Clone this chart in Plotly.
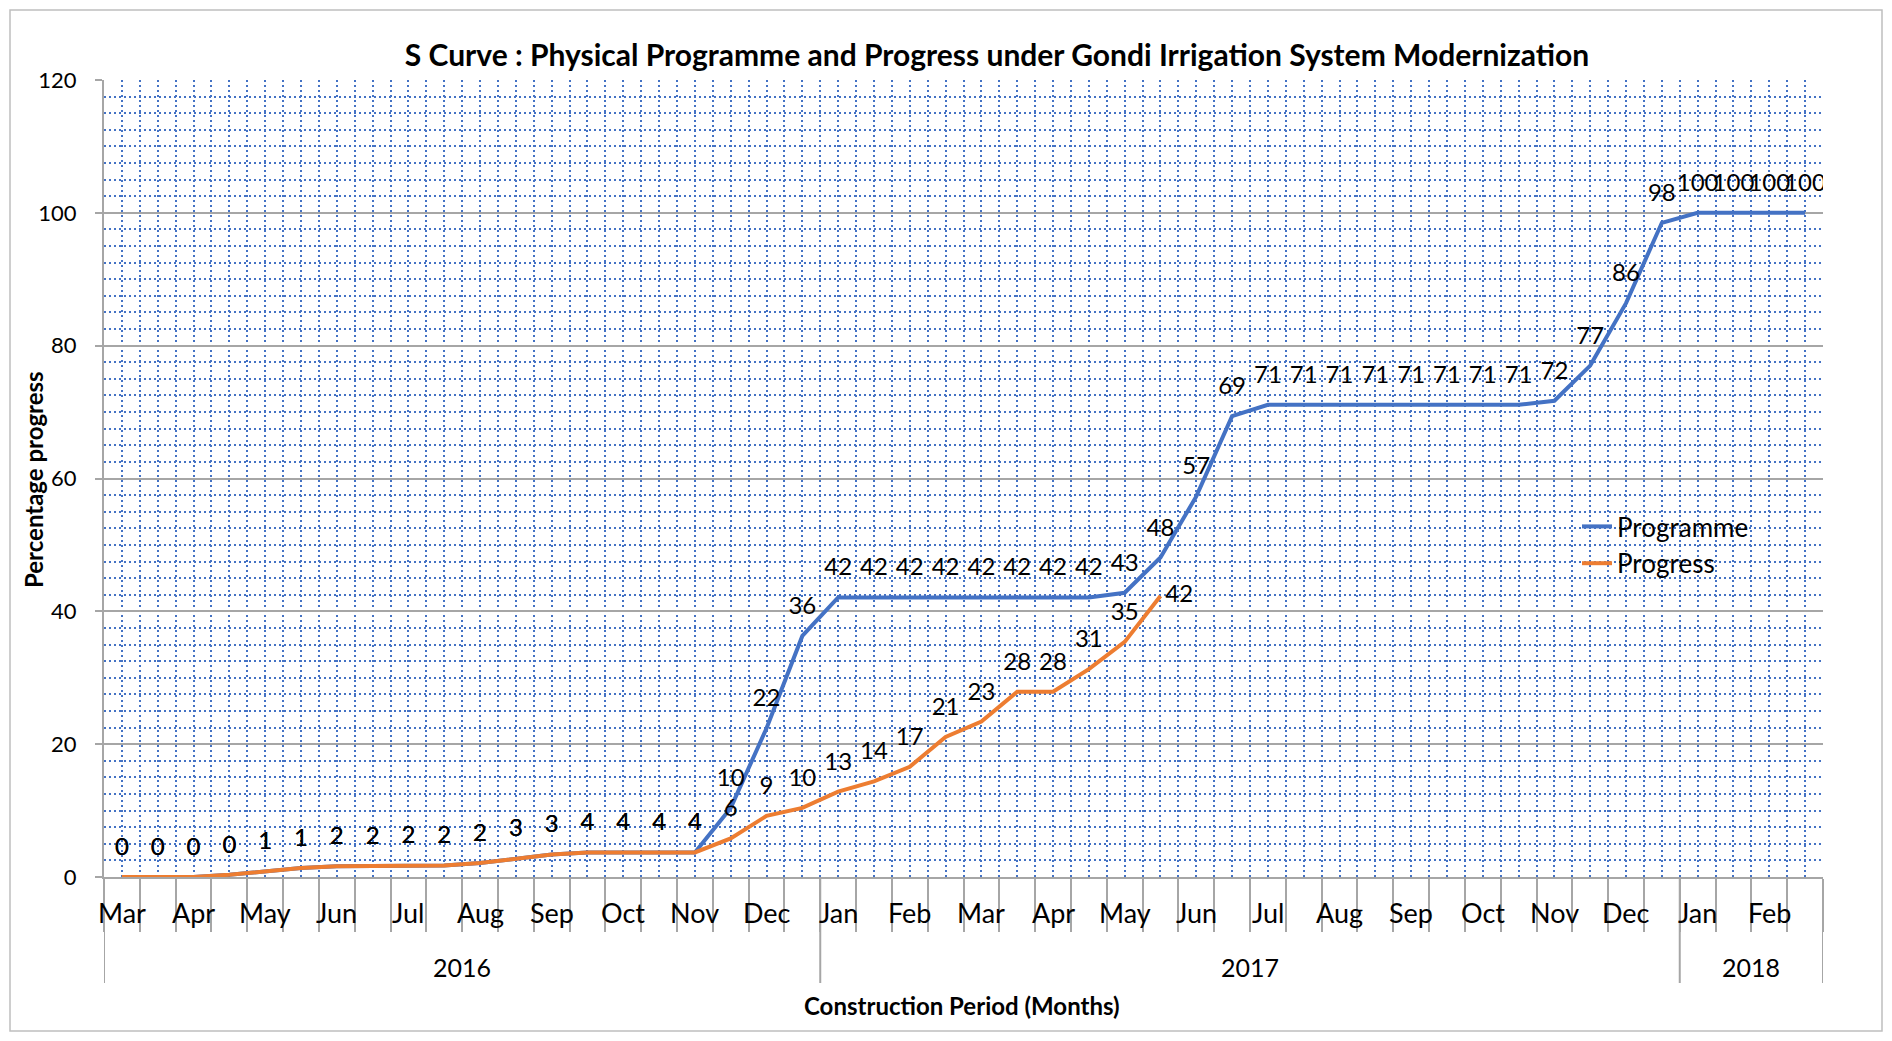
import plotly.graph_objects as go

# ---- data ----
months = ["Mar", "Apr", "May", "Jun", "Jul", "Aug", "Sep", "Oct", "Nov", "Dec",
          "Jan", "Feb", "Mar", "Apr", "May", "Jun", "Jul", "Aug", "Sep", "Oct", "Nov", "Dec",
          "Jan", "Feb"]
years = ["2016", "2017", "2018"]
months_per_year = [10, 12, 2]
points_per_month = 2

programme = [0, 0, 0, 0.35, 0.85, 1.35, 1.6, 1.7, 1.75, 1.75, 2.1, 2.8, 3.4, 3.7, 3.7, 3.7, 3.7,
             10.4, 22.4, 36.3, 42.1, 42.1, 42.1, 42.1, 42.1, 42.1, 42.1, 42.1, 42.8, 48.1,
             57.3, 69.4, 71.1, 71.1, 71.1, 71.1, 71.1, 71.1, 71.1, 71.1, 71.7, 77.0, 86.4,
             98.5, 100, 100, 100, 100]
progress = [0, 0, 0, 0.35, 0.85, 1.35, 1.6, 1.7, 1.75, 1.75, 2.1, 2.8, 3.4, 3.7, 3.7, 3.7, 3.7,
            5.8, 9.2, 10.4, 12.85, 14.4, 16.6, 21.1, 23.4, 27.9, 27.9, 31.3, 35.4, 42.3]

# ---- layout helpers (screen pixel coordinates; page body has an 8px margin) ----
OFF = 8
W, H = 1892 - 2 * OFF, 1041 - 2 * OFF
L, R, T, B = 104, 1823, 80, 877
pw, ph = R - L, B - T
def py(pix):  # screen pixel y -> paper y
    return (B - pix) / ph
def px(pix):
    return (pix - L) / pw

FONT = "Lato"
BLUE = "#4472C4"
ORANGE = "#ED7D31"
GRID_DOT = "#4472C4"
GRAY = "#A6A6A6"
DOT = "2px,3px"
GW = 1.7
LABEL_GAP = 24

n = len(programme)
xs = list(range(n))
xp = list(range(len(progress)))

fig = go.Figure()
fig.add_trace(go.Scatter(x=xs, y=programme, name="Programme", mode="lines",
                         line=dict(color=BLUE, width=4), hoverinfo="skip"))
fig.add_trace(go.Scatter(x=xp, y=progress, name="Progress", mode="lines",
                         line=dict(color=ORANGE, width=4), hoverinfo="skip"))
# data labels (transparent markers only used to offset the text)
fig.add_trace(go.Scatter(
    x=xs, y=programme, mode="markers+text", showlegend=False,
    marker=dict(size=LABEL_GAP, color="rgba(0,0,0,0)", line=dict(width=0, color="rgba(0,0,0,0)")),
    text=[f"{v:.0f}" for v in programme], textposition="top center",
    textfont=dict(family=FONT, size=24, color="#000"), hoverinfo="skip"))
prog_pos = ["top center"] * (len(progress) - 1) + ["middle right"]
prog_size = [LABEL_GAP] * (len(progress) - 1) + [6]
fig.add_trace(go.Scatter(
    x=xp, y=progress, mode="markers+text", showlegend=False,
    marker=dict(size=prog_size, color="rgba(0,0,0,0)", line=dict(width=0, color="rgba(0,0,0,0)")),
    text=[f"{v:.0f}" for v in progress], textposition=prog_pos,
    textfont=dict(family=FONT, size=24, color="#000"), hoverinfo="skip"))

boundaries = [i - 0.5 for i in range(n + 1)]

annotations = []
for k, m in enumerate(months):
    annotations.append(dict(x=k * points_per_month, y=py(913), xref="x", yref="paper",
                            text=m, showarrow=False, yanchor="middle",
                            font=dict(family=FONT, size=27, color="#000")))
shapes = []
start = 0
for yr, nm in zip(years, months_per_year):
    cnt = nm * points_per_month
    annotations.append(dict(x=start + (cnt - 1) / 2, y=py(967), xref="x", yref="paper",
                            text=yr, showarrow=False, yanchor="middle",
                            font=dict(family=FONT, size=25, color="#000")))
    shapes.append(dict(type="line", xref="x", yref="paper", x0=start - 0.5, x1=start - 0.5,
                       y0=0, y1=py(983), line=dict(color=GRAY, width=2)))
    start += cnt
shapes.append(dict(type="line", xref="x", yref="paper", x0=start - 0.5, x1=start - 0.5,
                   y0=0, y1=py(983), line=dict(color=GRAY, width=2)))
shapes.append(dict(type="rect", xref="paper", yref="paper", x0=px(10), x1=px(1882),
                   y0=py(1031), y1=py(10), line=dict(color="#BFBFBF", width=1.5),
                   layer="below"))

annotations.append(dict(x=px(33), y=py(480), xref="paper", yref="paper",
                        xanchor="center", yanchor="middle",
                        text="<b>Percentage progress</b>", textangle=-90, showarrow=False,
                        font=dict(family=FONT, size=24, color="#000")))
annotations.append(dict(x=px(962), y=py(1005), xref="paper", yref="paper",
                        text="<b>Construction Period (Months)</b>", showarrow=False,
                        yanchor="middle",
                        font=dict(family=FONT, size=24, color="#000")))

fig.update_layout(
    width=W, height=H,
    margin=dict(l=L - OFF, r=W - (R - OFF), t=T - OFF, b=H - (B - OFF), pad=0, autoexpand=False),
    paper_bgcolor="white", plot_bgcolor="white",
    title=dict(text="<b>S Curve : Physical Programme and Progress under Gondi Irrigation System Modernization</b>",
               x=px(997), xref="paper", xanchor="center",
               y=1 - (55 - OFF) / H, yanchor="middle", automargin=False,
               font=dict(family=FONT, size=30, color="#000")),
    showlegend=True,
    legend=dict(x=px(1577), y=py(545), xanchor="left", yanchor="middle",
                bgcolor="rgba(0,0,0,0)", font=dict(family=FONT, size=26, color="#000"),
                tracegroupgap=0),
    annotations=annotations, shapes=shapes,
    xaxis=dict(range=[-0.5, n - 0.5], tickmode="array", tickvals=boundaries,
               showticklabels=False, ticks="outside", ticklen=53, tickwidth=2,
               tickcolor=GRAY, showline=True, linecolor=GRAY, linewidth=2,
               showgrid=True, gridcolor=GRID_DOT, griddash=DOT, gridwidth=GW,
               zeroline=False, automargin=False,
               minor=dict(tickmode="array", tickvals=list(range(n)), showgrid=True,
                          gridcolor=GRID_DOT, griddash=DOT, gridwidth=GW, ticks="")),
    yaxis=dict(range=[0, 120], tickmode="linear", tick0=0, dtick=20,
               ticks="outside", ticklen=7, tickwidth=2, tickcolor=GRAY,
               showline=True, linecolor=GRAY, linewidth=2,
               showgrid=True, gridcolor=GRAY, gridwidth=2, zeroline=False,
               ticklabelstandoff=14, automargin=False,
               tickfont=dict(family=FONT, size=22, color="#000"),
               minor=dict(dtick=2.5, tick0=0, showgrid=True, gridcolor=GRID_DOT,
                          griddash=DOT, gridwidth=GW, ticks="")),
)

fig.write_html("out.html")
